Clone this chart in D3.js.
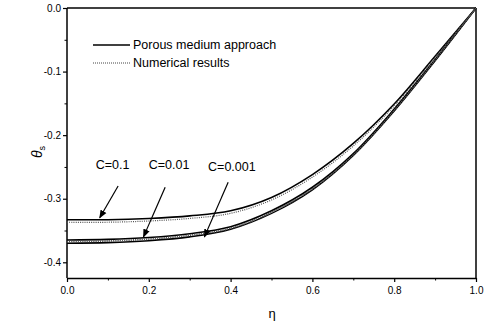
<!DOCTYPE html>
<html><head><meta charset="utf-8">
<script src="https://cdn.jsdelivr.net/npm/d3@7"></script>
<style>
body{margin:0;background:#fff;}
text{font-family:"Liberation Sans",Arial,sans-serif;fill:#000;}
</style></head>
<body><svg id="chart" width="489" height="328"></svg>
<script>
// ---- data ----
const eta = [0, 0.1, 0.2, 0.3, 0.4, 0.5, 0.6, 0.7, 0.8, 0.9, 1.0];
const porousC01   = [-0.333, -0.333, -0.331, -0.327, -0.319, -0.298, -0.262, -0.213, -0.151, -0.076, 0];
const numC01      = [-0.337, -0.337, -0.335, -0.331, -0.323, -0.302, -0.266, -0.217, -0.154, -0.078, 0];
const porousC001  = [-0.365, -0.364, -0.361, -0.355, -0.344, -0.319, -0.282, -0.229, -0.159, -0.081, 0];
const numC001     = [-0.367, -0.366, -0.363, -0.357, -0.346, -0.321, -0.284, -0.231, -0.161, -0.082, 0];
const porousC0001 = [-0.370, -0.369, -0.366, -0.360, -0.348, -0.323, -0.286, -0.232, -0.162, -0.083, 0];
const numC0001    = [-0.368, -0.367, -0.364, -0.358, -0.347, -0.322, -0.285, -0.231, -0.161, -0.082, 0];
const xTicks = [0, 0.2, 0.4, 0.6, 0.8, 1.0];
const xMinor = [0.1, 0.3, 0.5, 0.7, 0.9];
const yTicks = [0, -0.1, -0.2, -0.3, -0.4];
const yMinor = [-0.05, -0.15, -0.25, -0.35];
const legendLabels = ["Porous medium approach", "Numerical results"];
const annotations = [
  {label: "C=0.1",   tx: 0.07, ty: -0.254, ax: 0.125, ay: -0.28, bx: 0.08, by: -0.330},
  {label: "C=0.01",  tx: 0.20, ty: -0.253, ax: 0.24, ay: -0.282, bx: 0.187, by: -0.360},
  {label: "C=0.001", tx: 0.345, ty: -0.256, ax: 0.394, ay: -0.274, bx: 0.336, by: -0.360}
];

// ---- layout ----
const svg = d3.select("#chart");
const L = 67, R = 476, T = 8, B = 278;
const x = d3.scaleLinear().domain([0, 1]).range([L, R]);
const y = d3.scaleLinear().domain([0, -0.4]).range([T, 262.3]);
const fmt = d => d.toFixed(1);

// frame
svg.append("line").attr("x1", L).attr("x2", R).attr("y1", T).attr("y2", T).attr("stroke", "#000").attr("stroke-width", 1.5);
svg.append("line").attr("x1", R).attr("x2", R).attr("y1", T).attr("y2", B).attr("stroke", "#000").attr("stroke-width", 1.5);

// axes
const xAxis = d3.axisBottom(x).tickValues(xTicks).tickFormat(fmt).tickSize(4).tickSizeOuter(0);
const gx = svg.append("g").attr("transform", `translate(0,${B})`).call(xAxis);
gx.select(".domain").attr("stroke-width", 1.5);
gx.selectAll(".tick line").attr("stroke-width", 1.2);
gx.selectAll("text").attr("font-size", 10).attr("dy", "0.9em");
svg.append("g").attr("transform", `translate(0,${B})`)
  .call(d3.axisBottom(x).tickValues(xMinor).tickSize(2.5).tickFormat(""))
  .call(g => g.select(".domain").remove());

const yAxis = d3.axisLeft(y).tickValues(yTicks).tickFormat(fmt).tickSize(4).tickSizeOuter(0);
const gy = svg.append("g").attr("transform", `translate(${L},0)`).call(yAxis);
gy.select(".domain").attr("d", `M0,${T}V${B}`).attr("stroke-width", 1.5);
gy.selectAll(".tick line").attr("stroke-width", 1.2);
gy.selectAll("text").attr("font-size", 10).attr("x", -6);
svg.append("g").attr("transform", `translate(${L},0)`)
  .call(d3.axisLeft(y).tickValues(yMinor).tickSize(2.5).tickFormat(""))
  .call(g => g.select(".domain").remove());

// axis titles
svg.append("text").attr("x", 272).attr("y", 318).attr("text-anchor", "middle").attr("font-size", 13).text("η");
const yl = svg.append("text").attr("transform", "translate(42,152) rotate(-90)").attr("text-anchor", "middle")
  .attr("font-size", 14).attr("font-style", "italic");
yl.append("tspan").text("θ");
yl.append("tspan").attr("font-size", 9).attr("dy", 3).attr("font-style", "normal").text("s");

// curves
const line = d3.line().x(d => x(d[0])).y(d => y(d[1])).curve(d3.curveCatmullRom.alpha(0.5));
const pair = arr => eta.map((e, i) => [e, arr[i]]);
[porousC01, porousC001, porousC0001].forEach(s => {
  svg.append("path").attr("d", line(pair(s))).attr("fill", "none").attr("stroke", "#000").attr("stroke-width", 1.6);
});
[numC01, numC001, numC0001].forEach(s => {
  svg.append("path").attr("d", line(pair(s))).attr("fill", "none").attr("stroke", "#555")
    .attr("stroke-width", 1.2).attr("stroke-dasharray", "1,1.2");
});

// legend
svg.append("line").attr("x1", 93).attr("x2", 130).attr("y1", 45).attr("y2", 45).attr("stroke", "#000").attr("stroke-width", 1.4);
svg.append("line").attr("x1", 93).attr("x2", 130).attr("y1", 63).attr("y2", 63).attr("stroke", "#444").attr("stroke-width", 1).attr("stroke-dasharray", "1,1");
legendLabels.forEach((t, i) => {
  svg.append("text").attr("x", 133).attr("y", 45 + i * 18).attr("dy", "0.35em").attr("font-size", 12.5).text(t);
});

// annotations with arrows
const defs = svg.append("defs");
defs.append("marker").attr("id", "arr").attr("viewBox", "0 0 10 10").attr("refX", 9).attr("refY", 5)
  .attr("markerWidth", 7).attr("markerHeight", 7).attr("orient", "auto-start-reverse")
  .append("path").attr("d", "M0,1 L10,5 L0,9 Z").attr("fill", "#000");
annotations.forEach(a => {
  svg.append("text").attr("x", x(a.tx)).attr("y", y(a.ty)).attr("font-size", 12.5).attr("text-anchor", "start").text(a.label);
  svg.append("line").attr("x1", x(a.ax)).attr("y1", y(a.ay)).attr("x2", x(a.bx)).attr("y2", y(a.by))
    .attr("stroke", "#000").attr("stroke-width", 1.2).attr("marker-end", "url(#arr)");
});
</script></body></html>
